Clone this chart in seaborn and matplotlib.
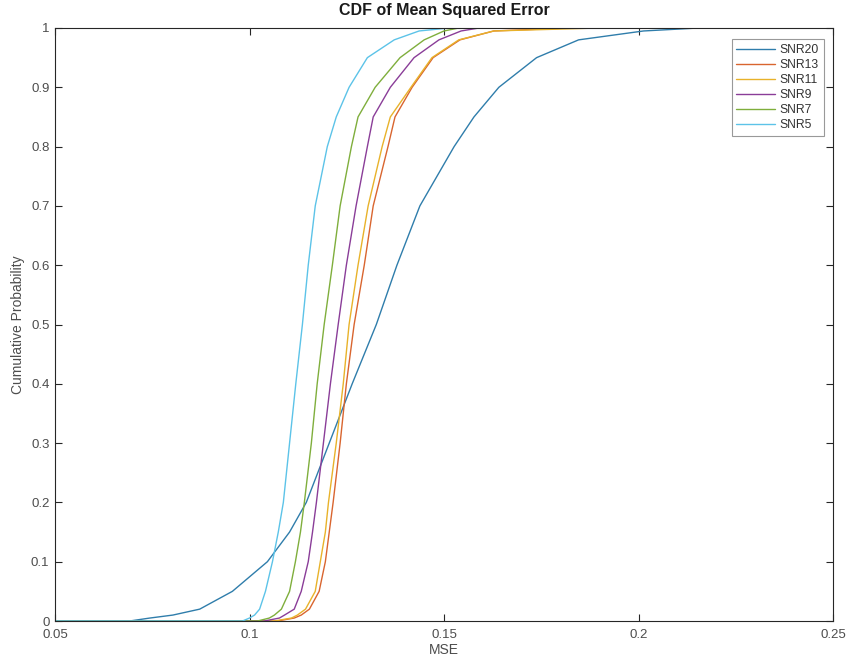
import numpy as np
import pandas as pd
import matplotlib
matplotlib.use("Agg")
import matplotlib.pyplot as plt
import seaborn as sns

# Cumulative probability levels at which the MSE quantiles were read
PROB = [0, 0.005, 0.01, 0.02, 0.05, 0.1, 0.15, 0.2, 0.3, 0.4, 0.5,
        0.6, 0.7, 0.8, 0.85, 0.9, 0.95, 0.98, 0.995, 1.0]

SNR20 = [0.0692, 0.0744, 0.0803, 0.0872, 0.0956, 0.1046, 0.1103, 0.1146, 0.1205, 0.1264,
         0.1326, 0.1379, 0.1438, 0.1526, 0.1577, 0.1641, 0.1738, 0.1846, 0.2013, 0.2154]
SNR13 = [0.1072, 0.1115, 0.1133, 0.1154, 0.1179, 0.1195, 0.1205, 0.1215, 0.1233, 0.1249,
         0.1269, 0.1295, 0.1318, 0.1356, 0.1374, 0.1418, 0.1472, 0.1541, 0.1628, 0.1821]
SNR11 = [0.1064, 0.1108, 0.1123, 0.1144, 0.1169, 0.1182, 0.1195, 0.1203, 0.1223, 0.1241,
         0.1256, 0.1279, 0.1305, 0.1341, 0.1362, 0.1415, 0.1469, 0.1538, 0.1628, 0.1897]
SNR9 = [0.1038, 0.1077, 0.1090, 0.1115, 0.1133, 0.1151, 0.1162, 0.1172, 0.1190, 0.1208,
        0.1228, 0.1249, 0.1274, 0.1303, 0.1318, 0.1362, 0.1423, 0.1487, 0.1544, 0.1590]
SNR7 = [0.1021, 0.1051, 0.1064, 0.1082, 0.1103, 0.1118, 0.1131, 0.1141, 0.1159, 0.1174,
        0.1192, 0.1213, 0.1233, 0.1262, 0.1279, 0.1323, 0.1387, 0.1449, 0.1500, 0.1538]
SNR5 = [0.0982, 0.1000, 0.1013, 0.1026, 0.1041, 0.1059, 0.1074, 0.1087, 0.1103, 0.1119,
        0.1136, 0.1151, 0.1169, 0.1200, 0.1223, 0.1256, 0.1303, 0.1372, 0.1436, 0.1513]

SERIES = ["SNR20", "SNR13", "SNR11", "SNR9", "SNR7", "SNR5"]
VALUES = [SNR20, SNR13, SNR11, SNR9, SNR7, SNR5]
COLORS = ["#2f7dab", "#d9652f", "#e8b22a", "#8a3d98", "#7fae3c", "#5cc3e8"]

XLIM = (0.05, 0.25)
YLIM = (0, 1)
XTICKS = [0.05, 0.1, 0.15, 0.2, 0.25]
XTICKLABELS = ["0.05", "0.1", "0.15", "0.2", "0.25"]
YTICKS = [0, 0.1, 0.2, 0.3, 0.4, 0.5, 0.6, 0.7, 0.8, 0.9, 1]
YTICKLABELS = ["0", "0.1", "0.2", "0.3", "0.4", "0.5", "0.6", "0.7", "0.8", "0.9", "1"]

rows = []
for name, vals in zip(SERIES, VALUES):
    # empirical CDF is 0 to the left of the sample and 1 to its right
    rows.append((name, XLIM[0], 0.0))
    for p, v in zip(PROB, vals):
        rows.append((name, v, p))
    rows.append((name, XLIM[1], 1.0))
df = pd.DataFrame(rows, columns=["SNR", "MSE", "P"])

sns.set_style("white")
plt.rcParams["font.family"] = ["Liberation Sans", "DejaVu Sans"]

fig = plt.figure(figsize=(8.5, 6.64), dpi=100)
ax = fig.add_axes([55 / 850, 43 / 664, 778 / 850, 593 / 664])

sns.lineplot(data=df, x="MSE", y="P", hue="SNR", hue_order=SERIES,
             palette=dict(zip(SERIES, COLORS)), estimator=None, sort=False,
             linewidth=1.0, ax=ax)

ax.set_xlim(*XLIM)
ax.set_ylim(*YLIM)
ax.set_xticks(XTICKS)
ax.set_xticklabels(XTICKLABELS)
ax.set_yticks(YTICKS)
ax.set_yticklabels(YTICKLABELS)

axis_col = "#262626"
label_col = "#4d4d4d"
for sp in ax.spines.values():
    sp.set_visible(True)
    sp.set_color(axis_col)
    sp.set_linewidth(0.8)
ax.tick_params(direction="in", length=5, width=0.8, color=axis_col,
               top=True, right=True, bottom=True, left=True,
               labelsize=9.5, labelcolor=label_col)
ax.tick_params(axis="y", pad=4)
ax.tick_params(axis="x", pad=6)

ax.set_xlabel("MSE", fontsize=10, color=label_col, labelpad=1)
ax.set_ylabel("Cumulative Probability", fontsize=10, color=label_col, labelpad=4)
ax.set_title("CDF of Mean Squared Error", fontsize=11.5, fontweight="bold",
             color="#1a1a1a", pad=9)

leg = ax.legend(loc="upper right", bbox_to_anchor=(0.993, 0.987), fontsize=8.7,
                frameon=True, fancybox=False, handlelength=3.2, handletextpad=0.4,
                borderpad=0.4, labelspacing=0.25, borderaxespad=0.3)
leg.get_frame().set_edgecolor("#808080")
leg.get_frame().set_linewidth(0.8)
for t in leg.get_texts():
    t.set_color("#333333")

fig.savefig("out.png", dpi=100)
